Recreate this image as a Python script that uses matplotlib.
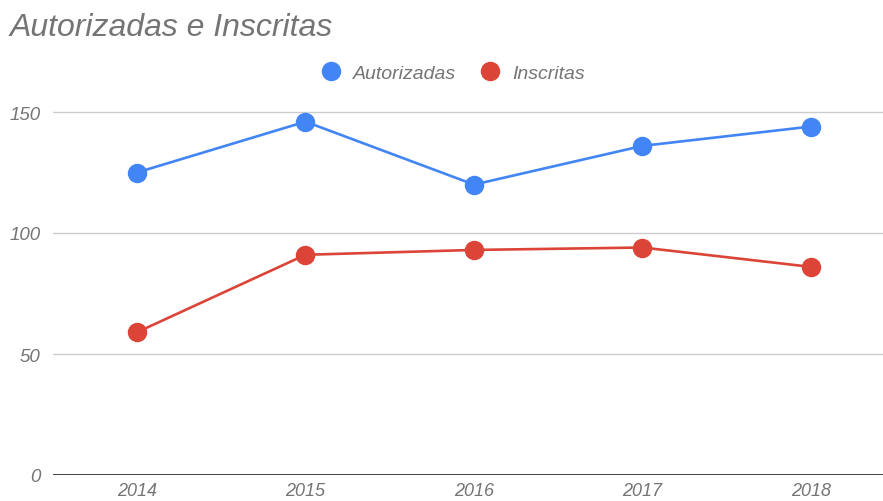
import matplotlib
matplotlib.use("Agg")
import matplotlib.pyplot as plt
from matplotlib.lines import Line2D

years = [2014, 2015, 2016, 2017, 2018]
autorizadas = [125, 146, 120, 136, 144]
inscritas = [59, 91, 93, 94, 86]
yticks = [0, 50, 100, 150]
title = "Autorizadas e Inscritas"
series_names = ["Autorizadas", "Inscritas"]

BLUE = "#4285F4"
RED = "#DB4437"
GRAY = "#757575"

plt.rcParams['font.family'] = ['Liberation Sans', 'DejaVu Sans']

W, H = 883, 502
fig = plt.figure(figsize=(W / 100, H / 100), dpi=100)

left_px, right_px = 53, 883
bottom_px = 476
ymax = 160
px_per_unit = (476 - 113) / 150
top_px = bottom_px - ymax * px_per_unit
ax = fig.add_axes([left_px / W, 1 - bottom_px / H, (right_px - left_px) / W, (bottom_px - top_px) / H])

step = (811 - 137) / 4
ax.set_xlim(2014 - (137 - left_px) / step, 2018 + (right_px - 811) / step)
ax.set_ylim(0, ymax)

for v in yticks[1:]:
    ax.axhline(v, color="#cccccc", lw=1, zorder=1)
ax.axhline(0, color="#333333", lw=1.3, zorder=2)

ax.plot(years, autorizadas, color=BLUE, lw=1.9, marker='o', markersize=13, zorder=3, clip_on=False)
ax.plot(years, inscritas, color=RED, lw=1.9, marker='o', markersize=13, zorder=3, clip_on=False)

for s in ax.spines.values():
    s.set_visible(False)
ax.set_yticks(yticks)
ax.set_yticklabels([str(v) for v in yticks], fontsize=13.5, color=GRAY, style='italic')
ax.set_xticks(years)
ax.set_xticklabels([str(y) for y in years], fontsize=13, color=GRAY, style='italic')
ax.tick_params(axis='both', length=0)
ax.tick_params(axis='y', pad=9)
ax.tick_params(axis='x', pad=5)

fig.text(10 / W, 1 - 28 / H, title, fontsize=23, color=GRAY, style='italic', va='center', ha='left')

handles = [Line2D([], [], color=BLUE, marker='o', markersize=13, lw=0),
           Line2D([], [], color=RED, marker='o', markersize=13, lw=0)]
leg = fig.legend(handles, series_names, loc='center', bbox_to_anchor=(453 / W, 1 - 74 / H),
                 ncol=2, frameon=False, handlelength=1.0, handletextpad=0.65,
                 columnspacing=1.2, prop={'style': 'italic', 'size': 14})
for t in leg.get_texts():
    t.set_color(GRAY)

fig.savefig("out.png", dpi=100)
